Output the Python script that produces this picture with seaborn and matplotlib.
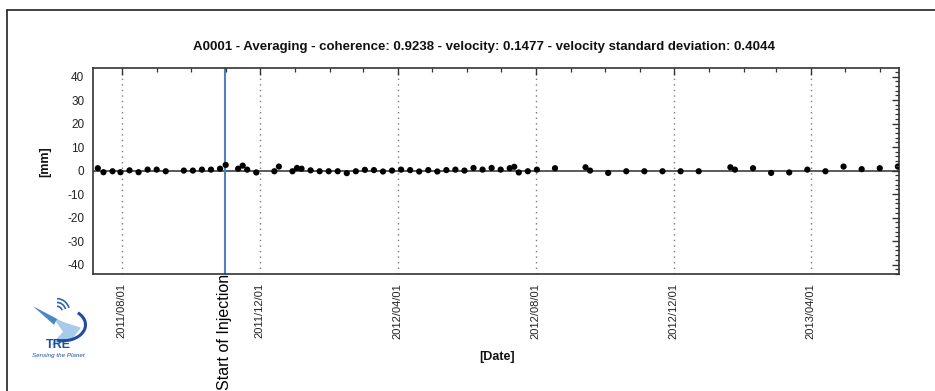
import matplotlib
matplotlib.use("Agg")
import matplotlib.pyplot as plt
import matplotlib.dates as mdates
import matplotlib.ticker as mticker
from matplotlib.lines import Line2D
from matplotlib.patches import Arc, Polygon
import matplotlib.transforms as mtransforms
import pandas as pd
import seaborn as sns

# Measurement point summary
point_id = "A0001"
method = "Averaging"
coherence = 0.9238
velocity = 0.1477
velocity_std = 0.4044
injection_date = "2011-10-31"
injection_label = "Start of Injection"

# Acquisition dates and displacement along line of sight [mm]
dates = [
    "2011-07-11", "2011-07-16", "2011-07-24", "2011-07-31", "2011-08-08",
    "2011-08-16", "2011-08-24", "2011-09-01", "2011-09-09", "2011-09-25",
    "2011-10-03", "2011-10-11", "2011-10-19", "2011-10-27", "2011-11-01",
    "2011-11-12", "2011-11-16", "2011-11-20", "2011-11-28", "2011-12-14",
    "2011-12-18", "2011-12-30", "2012-01-03", "2012-01-07", "2012-01-15",
    "2012-01-23", "2012-01-31", "2012-02-08", "2012-02-16", "2012-02-24",
    "2012-03-03", "2012-03-11", "2012-03-19", "2012-03-27", "2012-04-04",
    "2012-04-12", "2012-04-20", "2012-04-28", "2012-05-06", "2012-05-14",
    "2012-05-22", "2012-05-30", "2012-06-07", "2012-06-15", "2012-06-23",
    "2012-07-01", "2012-07-09", "2012-07-13", "2012-07-17", "2012-07-25",
    "2012-08-02", "2012-08-18", "2012-09-14", "2012-09-18", "2012-10-04",
    "2012-10-20", "2012-11-05", "2012-11-21", "2012-12-07", "2012-12-23",
    "2013-01-20", "2013-01-24", "2013-02-09", "2013-02-25", "2013-03-13",
    "2013-03-29", "2013-04-14", "2013-04-30", "2013-05-16", "2013-06-01",
    "2013-06-17",
]
displacement_mm = [
    1.0, -0.7, -0.3, -0.7, 0.1, -0.7, 0.4, 0.4, -0.3, 0.0,
    0.0, 0.4, 0.4, 0.8, 2.4, 0.8, 2.1, 0.4, -0.8, -0.3,
    1.7, -0.3, 1.1, 0.8, 0.1, -0.3, -0.3, -0.3, -1.1, -0.3,
    0.3, 0.2, -0.4, 0.0, 0.4, 0.2, -0.4, 0.2, -0.4, 0.2,
    0.4, 0.0, 1.1, 0.4, 1.1, 0.4, 1.0, 1.6, -0.8, -0.3,
    0.4, 1.0, 1.4, 0.0, -1.0, -0.3, -0.3, -0.3, -0.3, -0.3,
    1.4, 0.4, 1.0, -1.0, -0.8, 0.4, -0.3, 1.7, 0.6, 1.0,
    1.7,
]

sns.set_theme(style="white")
plt.rcParams["font.family"] = ["Liberation Sans", "DejaVu Sans"]
plt.rcParams["axes.unicode_minus"] = False

W, H = 935, 391
fig = plt.figure(figsize=(W / 100, H / 100), dpi=100, facecolor="white")

left, right, top, bottom = 93.3, 899, 68.3, 274
rect = [left / W, 1 - bottom / H, (right - left) / W, (bottom - top) / H]
ax = fig.add_axes(rect)
ax.set_facecolor("white")

df = pd.DataFrame({"date": pd.to_datetime(dates), "mm": displacement_mm})

ax.axhline(0, color="#4d4d4d", lw=1.3, zorder=1)
inj = pd.Timestamp(injection_date)
ax.axvline(inj, color="#4f81bd", lw=1.5, zorder=2)
sns.scatterplot(data=df, x="date", y="mm", ax=ax, color="black", s=20,
                edgecolor="none", zorder=3, legend=False)

ax.set_xlim(pd.Timestamp("2011-07-07"), pd.Timestamp("2013-06-18"))
ax.set_ylim(-44, 43.5)

# Date axis: labels every four months, minor ticks monthly
ax.xaxis.set_major_locator(mdates.MonthLocator(bymonth=[4, 8, 12], bymonthday=1))
ax.xaxis.set_minor_locator(mdates.MonthLocator(bymonthday=1))
ax.xaxis.set_major_formatter(mdates.DateFormatter("%Y/%m/%d"))
ax.yaxis.set_major_locator(mticker.MultipleLocator(10))
ax.yaxis.set_minor_locator(mticker.MultipleLocator(2))

ax.xaxis.grid(True, which="major", linestyle=(0, (1, 3)), color="#7a7a7a", lw=1.0)
ax.yaxis.grid(False)

ax.tick_params(axis="x", which="major", direction="inout", length=9, width=1.1,
               color="#333333", labelsize=8, labelrotation=90, pad=2,
               labelcolor="#222222")
ax.tick_params(axis="x", which="minor", direction="inout", length=6, width=1.0,
               color="#333333")
ax.tick_params(axis="y", which="major", direction="inout", length=9, width=1.1,
               color="#333333", labelsize=8.5, pad=2, labelcolor="#222222")
ax.tick_params(axis="y", which="minor", direction="inout", length=6, width=0.9,
               color="#333333")
ax.set_xlabel("")
ax.set_ylabel("")

for s in ax.spines.values():
    s.set_color("#333333")
    s.set_linewidth(1.2)

# Overlay sharing both axes, carrying inward ticks on the top and right edges
ov = fig.add_axes(rect, sharex=ax, sharey=ax, frameon=False)
ov.patch.set_visible(False)
ov.grid(False)
ov.tick_params(which="both", bottom=False, left=False, labelbottom=False,
               labelleft=False, top=True, right=True, labeltop=False,
               labelright=False, direction="in", color="#333333")
ov.tick_params(which="major", length=5, width=1.0)
ov.tick_params(which="minor", length=3, width=0.9)

# Injection marker label hanging below the axis
trans = mtransforms.blended_transform_factory(ax.transData, ax.transAxes)
ax.text(inj, 0, injection_label, transform=trans, rotation=90, ha="center",
        va="top", fontsize=11.5, color="black", clip_on=False)

title = (f"{point_id} - {method} - coherence: {coherence:.4f} - velocity: "
         f"{velocity:.4f} - velocity standard deviation: {velocity_std:.4f}")
fig.text(484 / W, 1 - 47 / H, title, ha="center", va="center",
         fontsize=9.5, fontweight="bold", color="#111111")
fig.text(45 / W, 1 - 162 / H, "[mm]", rotation=90, ha="center", va="center",
         fontsize=9, fontweight="bold", color="#111111")
fig.text(497 / W, 1 - 357 / H, "[Date]", ha="center", va="center",
         fontsize=9, fontweight="bold", color="#111111")

# Outer frame
fig.add_artist(Line2D([7 / W, 1], [1 - 10 / H] * 2, transform=fig.transFigure,
                      color="#333333", lw=1.3))
fig.add_artist(Line2D([7 / W] * 2, [0, 1 - 10 / H], transform=fig.transFigure,
                      color="#333333", lw=1.3))

# Company logo
lax = fig.add_axes([30 / W, 1 - 348 / H, 60 / W, 58 / H])
lax.set_xlim(0, 1)
lax.set_ylim(0, 1)
lax.axis("off")
lax.add_patch(Polygon([[0.05, 0.72], [0.55, 0.45], [0.85, 0.35], [0.70, 0.15],
                       [0.35, 0.05], [0.55, 0.28], [0.40, 0.50]],
                      closed=True, facecolor="#a9cbea", edgecolor="none"))
lax.add_patch(Arc((0.55, 0.40), 0.75, 0.55, theta1=-110, theta2=40,
                  color="#1f4ea0", lw=2.2))
lax.add_patch(Polygon([[0.05, 0.72], [0.45, 0.50], [0.40, 0.40]], closed=True,
                      facecolor="#4a86c8", edgecolor="none"))
for r in (0.18, 0.30, 0.42):
    lax.add_patch(Arc((0.45, 0.62), r, r * 1.1, theta1=20, theta2=90,
                      color="#2e64b0", lw=1.2))
fig.text(58 / W, 1 - 345 / H, "TRE", ha="center", va="center", fontsize=9,
         fontweight="bold", color="#1f4ea0")
fig.text(58 / W, 1 - 355 / H, "Sensing the Planet", ha="center", va="center",
         fontsize=4.5, style="italic", color="#1f4ea0")

fig.savefig("out.png", dpi=100, facecolor="white")
